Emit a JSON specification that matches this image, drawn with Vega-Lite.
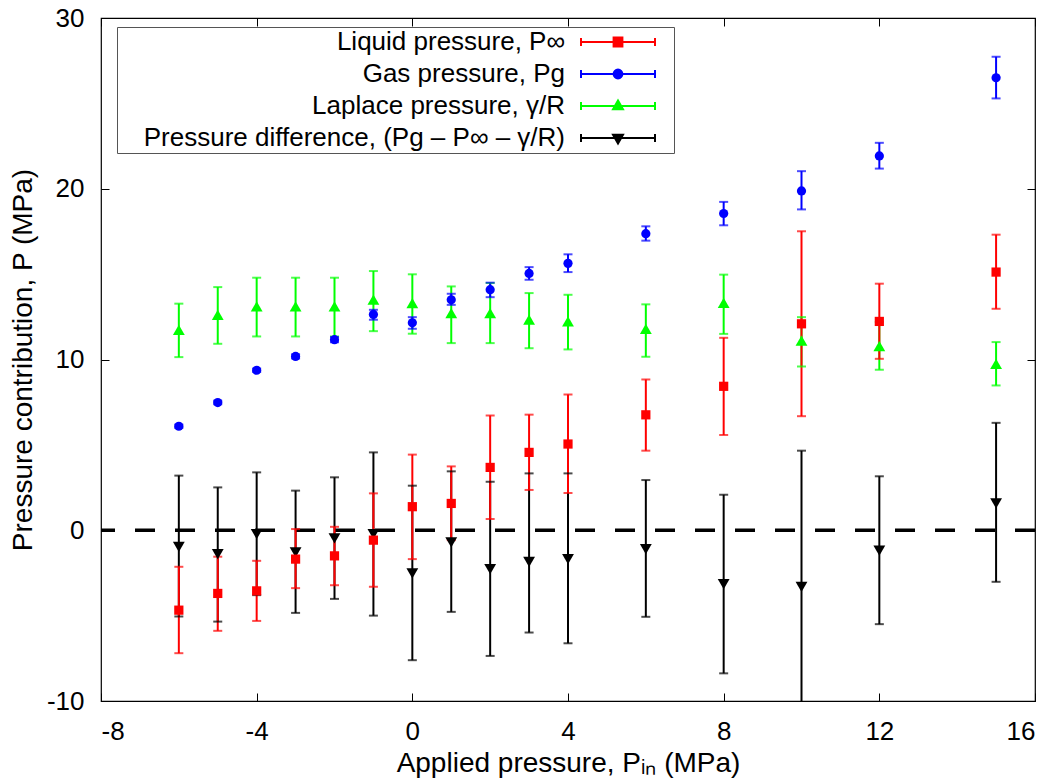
{
  "$schema": "https://vega.github.io/schema/vega-lite/v6.json",
  "width": 934,
  "height": 683,
  "autosize": {"type": "none"},
  "padding": {"left": 101, "top": 18, "right": 25, "bottom": 83},
  "config": {
    "font": "Liberation Sans",
    "view": {"stroke": "#000", "strokeWidth": 1.2},
    "axis": {
      "grid": false, "domain": false, "tickColor": "#000", "tickSize": -8, "tickWidth": 1,
      "labelFontSize": 26, "labelColor": "#000", "labelFont": "Liberation Sans",
      "titleFontSize": 28, "titleColor": "#000", "titleFontWeight": "normal", "titleFont": "Liberation Sans",
      "labelPadding": 25, "labelExpr": "'' + datum.value"
    }
  },
  "data": {"values": [
    {"x": -6, "series": "Pressure difference, (Pg – P∞ – γ/R)", "p": -0.97, "lo": -5.05, "hi": 3.2},
    {"x": -5, "series": "Pressure difference, (Pg – P∞ – γ/R)", "p": -1.4, "lo": -5.35, "hi": 2.51},
    {"x": -4, "series": "Pressure difference, (Pg – P∞ – γ/R)", "p": -0.22, "lo": -3.8, "hi": 3.39},
    {"x": -3, "series": "Pressure difference, (Pg – P∞ – γ/R)", "p": -1.3, "lo": -4.84, "hi": 2.32},
    {"x": -2, "series": "Pressure difference, (Pg – P∞ – γ/R)", "p": -0.48, "lo": -4.02, "hi": 3.1},
    {"x": -1, "series": "Pressure difference, (Pg – P∞ – γ/R)", "p": -0.22, "lo": -5.0, "hi": 4.56},
    {"x": 0, "series": "Pressure difference, (Pg – P∞ – γ/R)", "p": -2.53, "lo": -7.61, "hi": 2.61},
    {"x": 1, "series": "Pressure difference, (Pg – P∞ – γ/R)", "p": -0.71, "lo": -4.78, "hi": 3.45},
    {"x": 2, "series": "Pressure difference, (Pg – P∞ – γ/R)", "p": -2.28, "lo": -7.36, "hi": 2.84},
    {"x": 3, "series": "Pressure difference, (Pg – P∞ – γ/R)", "p": -1.85, "lo": -5.99, "hi": 3.33},
    {"x": 4, "series": "Pressure difference, (Pg – P∞ – γ/R)", "p": -1.69, "lo": -6.62, "hi": 3.33},
    {"x": 6, "series": "Pressure difference, (Pg – P∞ – γ/R)", "p": -1.1, "lo": -5.07, "hi": 2.94},
    {"x": 8, "series": "Pressure difference, (Pg – P∞ – γ/R)", "p": -3.16, "lo": -8.38, "hi": 2.08},
    {"x": 10, "series": "Pressure difference, (Pg – P∞ – γ/R)", "p": -3.31, "lo": -11.3, "hi": 4.66},
    {"x": 12, "series": "Pressure difference, (Pg – P∞ – γ/R)", "p": -1.2, "lo": -5.5, "hi": 3.16},
    {"x": 15, "series": "Pressure difference, (Pg – P∞ – γ/R)", "p": 1.57, "lo": -3.02, "hi": 6.29},

    {"x": -6, "series": "Laplace pressure, γ/R", "p": 11.74, "lo": 10.14, "hi": 13.27},
    {"x": -5, "series": "Laplace pressure, γ/R", "p": 12.62, "lo": 10.92, "hi": 14.24},
    {"x": -4, "series": "Laplace pressure, γ/R", "p": 13.11, "lo": 11.35, "hi": 14.79},
    {"x": -3, "series": "Laplace pressure, γ/R", "p": 13.11, "lo": 11.35, "hi": 14.79},
    {"x": -2, "series": "Laplace pressure, γ/R", "p": 13.11, "lo": 11.35, "hi": 14.79},
    {"x": -1, "series": "Laplace pressure, γ/R", "p": 13.5, "lo": 11.66, "hi": 15.18},
    {"x": 0, "series": "Laplace pressure, γ/R", "p": 13.3, "lo": 11.51, "hi": 14.99},
    {"x": 1, "series": "Laplace pressure, γ/R", "p": 12.72, "lo": 10.96, "hi": 14.28},
    {"x": 2, "series": "Laplace pressure, γ/R", "p": 12.72, "lo": 10.96, "hi": 14.48},
    {"x": 3, "series": "Laplace pressure, γ/R", "p": 12.33, "lo": 10.66, "hi": 13.89},
    {"x": 4, "series": "Laplace pressure, γ/R", "p": 12.23, "lo": 10.59, "hi": 13.79},
    {"x": 6, "series": "Laplace pressure, γ/R", "p": 11.8, "lo": 10.16, "hi": 13.23},
    {"x": 8, "series": "Laplace pressure, γ/R", "p": 13.32, "lo": 11.5, "hi": 14.97},
    {"x": 10, "series": "Laplace pressure, γ/R", "p": 11.11, "lo": 9.59, "hi": 12.48},
    {"x": 12, "series": "Laplace pressure, γ/R", "p": 10.78, "lo": 9.4, "hi": 12.2},
    {"x": 15, "series": "Laplace pressure, γ/R", "p": 9.75, "lo": 8.48, "hi": 11.02},

    {"x": -6, "series": "Gas pressure, Pg", "p": 6.09, "lo": 5.99, "hi": 6.19},
    {"x": -5, "series": "Gas pressure, Pg", "p": 7.48, "lo": 7.38, "hi": 7.58},
    {"x": -4, "series": "Gas pressure, Pg", "p": 9.37, "lo": 9.27, "hi": 9.47},
    {"x": -3, "series": "Gas pressure, Pg", "p": 10.18, "lo": 10.06, "hi": 10.3},
    {"x": -2, "series": "Gas pressure, Pg", "p": 11.16, "lo": 11.01, "hi": 11.31},
    {"x": -1, "series": "Gas pressure, Pg", "p": 12.64, "lo": 12.33, "hi": 12.91},
    {"x": 0, "series": "Gas pressure, Pg", "p": 12.15, "lo": 11.8, "hi": 12.48},
    {"x": 1, "series": "Gas pressure, Pg", "p": 13.5, "lo": 13.2, "hi": 13.85},
    {"x": 2, "series": "Gas pressure, Pg", "p": 14.09, "lo": 13.65, "hi": 14.5},
    {"x": 3, "series": "Gas pressure, Pg", "p": 15.04, "lo": 14.67, "hi": 15.41},
    {"x": 4, "series": "Gas pressure, Pg", "p": 15.63, "lo": 15.12, "hi": 16.16},
    {"x": 6, "series": "Gas pressure, Pg", "p": 17.37, "lo": 16.96, "hi": 17.8},
    {"x": 8, "series": "Gas pressure, Pg", "p": 18.55, "lo": 17.86, "hi": 19.23},
    {"x": 10, "series": "Gas pressure, Pg", "p": 19.87, "lo": 18.79, "hi": 21.03},
    {"x": 12, "series": "Gas pressure, Pg", "p": 21.92, "lo": 21.18, "hi": 22.69},
    {"x": 15, "series": "Gas pressure, Pg", "p": 26.5, "lo": 25.29, "hi": 27.73},

    {"x": -6, "series": "Liquid pressure, P∞", "p": -4.68, "lo": -7.2, "hi": -2.14},
    {"x": -5, "series": "Liquid pressure, P∞", "p": -3.7, "lo": -5.89, "hi": -1.55},
    {"x": -4, "series": "Liquid pressure, P∞", "p": -3.55, "lo": -5.31, "hi": -1.79},
    {"x": -3, "series": "Liquid pressure, P∞", "p": -1.69, "lo": -3.39, "hi": 0.07},
    {"x": -2, "series": "Liquid pressure, P∞", "p": -1.5, "lo": -3.22, "hi": 0.2},
    {"x": -1, "series": "Liquid pressure, P∞", "p": -0.58, "lo": -3.31, "hi": 2.16},
    {"x": 0, "series": "Liquid pressure, P∞", "p": 1.38, "lo": -1.69, "hi": 4.43},
    {"x": 1, "series": "Liquid pressure, P∞", "p": 1.57, "lo": -0.58, "hi": 3.74},
    {"x": 2, "series": "Liquid pressure, P∞", "p": 3.68, "lo": 0.66, "hi": 6.72},
    {"x": 3, "series": "Liquid pressure, P∞", "p": 4.56, "lo": 2.36, "hi": 6.77},
    {"x": 4, "series": "Liquid pressure, P∞", "p": 5.05, "lo": 2.18, "hi": 7.95},
    {"x": 6, "series": "Liquid pressure, P∞", "p": 6.76, "lo": 4.66, "hi": 8.83},
    {"x": 8, "series": "Liquid pressure, P∞", "p": 8.43, "lo": 5.58, "hi": 11.27},
    {"x": 10, "series": "Liquid pressure, P∞", "p": 12.09, "lo": 6.68, "hi": 17.51},
    {"x": 12, "series": "Liquid pressure, P∞", "p": 12.23, "lo": 10.04, "hi": 14.44},
    {"x": 15, "series": "Liquid pressure, P∞", "p": 15.12, "lo": 12.97, "hi": 17.31}
  ]},
  "layer": [
    {
      "data": {"values": [{}]},
      "mark": {"type": "rule", "strokeDash": [20, 20], "strokeWidth": 3.5, "color": "#000"},
      "encoding": {"y": {"datum": 0, "type": "quantitative", "axis": null}}
    },
    {
      "mark": {"type": "rule", "strokeWidth": 2, "clip": true},
      "encoding": {
        "x": {"field": "x", "type": "quantitative",
              "scale": {"domain": [-8, 16], "nice": false, "zero": false},
              "axis": {"orient": "bottom", "values": [-8, -4, 0, 4, 8, 12, 16], "title": "Applied pressure, Pᵢₙ (MPa)", "titlePadding": 5}},
        "y": {"field": "lo", "type": "quantitative",
              "scale": {"domain": [-10, 30], "nice": false, "zero": false},
              "axis": {"orient": "left", "values": [-10, 0, 10, 20, 30], "title": "Pressure contribution, P (MPa)", "titlePadding": 9}},
        "y2": {"field": "hi"},
        "color": {"field": "series", "type": "nominal",
                  "scale": {"domain": ["Liquid pressure, P∞", "Gas pressure, Pg", "Laplace pressure, γ/R", "Pressure difference, (Pg – P∞ – γ/R)"],
                            "range": ["#ff0000", "#0000ff", "#00ff00", "#000000"]},
                  "legend": {
                    "orient": "none", "legendX": 16, "legendY": 9, "title": null, "direction": "vertical",
                    "labelFontSize": 26, "labelFont": "Liberation Sans", "labelColor": "#000", "labelAlign": "right", "labelLimit": 1000,
                    "labelOffset": -66, "symbolOffset": 486, "symbolSize": 64, "symbolStrokeWidth": 2,
                    "rowPadding": 6, "padding": 2, "strokeColor": "#555", "fillColor": "#fff",
                    "encode": {"symbols": {"update": {
                      "shape": {"signal": "['M-9.25,0H9.25M-9.25,-1V1M9.25,-1V1M-1.1,-1.1H1.1V1.1H-1.1ZM12.25,0h0.001','M-9.25,0H9.25M-9.25,-1V1M9.25,-1V1M-1.1,0A1.1,1.1,0,1,1,1.1,0A1.1,1.1,0,1,1,-1.1,0ZM12.25,0h0.001','M-9.25,0H9.25M-9.25,-1V1M9.25,-1V1M0,-1.4L1.25,0.8H-1.25ZM12.25,0h0.001','M-9.25,0H9.25M-9.25,-1V1M9.25,-1V1M0,1.4L1.25,-0.8H-1.25ZM12.25,0h0.001'][datum.index]"},
                      "fill": {"signal": "['#ff0000','#0000ff','#00ff00','#000000'][datum.index]"},
                      "stroke": {"signal": "['#ff0000','#0000ff','#00ff00','#000000'][datum.index]"},
                      "strokeWidth": {"value": 2},
                      "opacity": {"value": 1}
                    }}}
                  }}
      }
    },
    {
      "mark": {"type": "tick", "orient": "horizontal", "size": 9, "thickness": 2, "clip": true},
      "encoding": {
        "x": {"field": "x", "type": "quantitative", "axis": null},
        "y": {"field": "lo", "type": "quantitative", "axis": null},
        "color": {"field": "series", "type": "nominal"}
      }
    },
    {
      "mark": {"type": "tick", "orient": "horizontal", "size": 9, "thickness": 2, "clip": true},
      "encoding": {
        "x": {"field": "x", "type": "quantitative", "axis": null},
        "y": {"field": "hi", "type": "quantitative", "axis": null},
        "color": {"field": "series", "type": "nominal"}
      }
    },
    {
      "transform": [{"filter": {"field": "series", "equal": "Pressure difference, (Pg – P∞ – γ/R)"}}],
      "mark": {"type": "point", "shape": "triangle-down", "filled": true, "opacity": 1, "size": 140, "clip": true},
      "encoding": {
        "x": {"field": "x", "type": "quantitative",
              "axis": {"orient": "top", "values": [-8, -4, 0, 4, 8, 12, 16], "labels": false, "title": null}},
        "y": {"field": "p", "type": "quantitative",
              "axis": {"orient": "right", "values": [-10, 0, 10, 20, 30], "labels": false, "title": null}},
        "color": {"field": "series", "type": "nominal"}
      }
    },
    {
      "transform": [{"filter": {"field": "series", "equal": "Laplace pressure, γ/R"}}],
      "mark": {"type": "point", "shape": "triangle-up", "filled": true, "opacity": 1, "size": 140, "clip": true},
      "encoding": {
        "x": {"field": "x", "type": "quantitative", "axis": null},
        "y": {"field": "p", "type": "quantitative", "axis": null},
        "color": {"field": "series", "type": "nominal"}
      }
    },
    {
      "transform": [{"filter": {"field": "series", "equal": "Gas pressure, Pg"}}],
      "mark": {"type": "point", "shape": "circle", "filled": true, "opacity": 1, "size": 85, "clip": true},
      "encoding": {
        "x": {"field": "x", "type": "quantitative", "axis": null},
        "y": {"field": "p", "type": "quantitative", "axis": null},
        "color": {"field": "series", "type": "nominal"}
      }
    },
    {
      "transform": [{"filter": {"field": "series", "equal": "Liquid pressure, P∞"}}],
      "mark": {"type": "point", "shape": "square", "filled": true, "opacity": 1, "size": 85, "clip": true},
      "encoding": {
        "x": {"field": "x", "type": "quantitative", "axis": null},
        "y": {"field": "p", "type": "quantitative", "axis": null},
        "color": {"field": "series", "type": "nominal"}
      }
    }
  ],
  "resolve": {"axis": {"x": "independent", "y": "independent"}}
}
